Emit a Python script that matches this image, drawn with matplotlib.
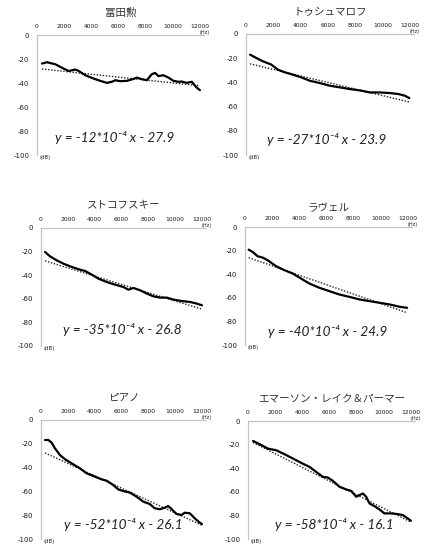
import matplotlib
matplotlib.use("Agg")
import matplotlib.pyplot as plt
import matplotlib.transforms as mtransforms

plt.rcParams['font.family'] = ['Noto Sans CJK JP', 'DejaVu Sans']

titles = ["冨田勲", "トゥシュマロフ", "ストコフスキー", "ラヴェル", "ピアノ",
          "エマーソン・レイク＆パーマー"]

# spectra (Hz, dB)
tomita_hz = [370, 735, 1350, 1960, 2330, 2820, 3060, 3550, 4170, 4660, 5150, 5510, 5760,
             6130, 6620, 7110, 7350, 7720, 8090, 8450, 8700, 8950, 9310, 9680, 10050,
             10420, 10660, 11030, 11400, 11760, 12000]
tomita_db = [-23.8, -22.7, -24.4, -28.0, -30.0, -28.8, -29.9, -33.5, -36.3, -38.2, -39.9,
             -39.0, -37.7, -38.5, -38.2, -36.6, -35.5, -36.8, -37.7, -32.7, -31.6, -34.3,
             -33.5, -35.5, -38.2, -39.0, -38.8, -39.9, -39.0, -43.8, -46.0]

tushmalov_hz = [294, 735, 1225, 1840, 2330, 2820, 3430, 4040, 4660, 5390, 6130, 6860,
                7600, 8330, 9070, 9800, 10540, 11150, 11640, 11960]
tushmalov_db = [-17.0, -19.7, -22.5, -25.2, -29.4, -31.6, -33.6, -35.8, -38.6, -40.5,
                -42.7, -44.1, -45.5, -46.6, -48.3, -48.3, -48.8, -49.6, -51.0, -53.0]

stokowski_hz = [300, 670, 1170, 1670, 2290, 2910, 3280, 3780, 4280, 4900, 5520, 6140,
                6520, 6890, 7390, 7890, 8380, 8880, 9380, 9880, 10500, 11120, 11620, 12000]
stokowski_db = [-20.3, -24.0, -27.4, -30.2, -33.0, -35.3, -36.4, -39.5, -42.9, -45.8,
                -48.0, -50.0, -52.3, -50.8, -52.8, -55.6, -57.9, -59.0, -59.0, -60.7,
                -61.9, -62.7, -64.1, -65.5]

ravel_hz = [270, 565, 930, 1300, 1670, 2290, 2900, 3510, 4130, 4740, 5480, 6220, 6950,
            7690, 8430, 9160, 9900, 10640, 11380, 11940]
ravel_db = [-19.2, -21.1, -24.8, -25.9, -28.2, -33.2, -36.6, -39.4, -43.7, -47.9, -51.5,
            -54.4, -57.2, -59.2, -61.4, -62.8, -64.2, -65.6, -67.6, -68.5]

piano_hz = [300, 550, 790, 1040, 1410, 1790, 2280, 2900, 3400, 4020, 4520, 4890, 5380,
            5760, 6130, 6630, 7120, 7620, 8110, 8480, 8860, 9230, 9480, 9730, 10100,
            10470, 10720, 11090, 11460, 11840, 12000]
piano_db = [-16.8, -16.8, -19.0, -23.8, -29.4, -33.0, -36.4, -40.6, -44.8, -47.6, -49.9,
            -51.0, -54.6, -58.3, -59.7, -61.0, -64.4, -68.6, -70.6, -74.2, -75.0, -73.7,
            -72.3, -74.8, -79.0, -79.8, -77.9, -78.4, -82.6, -86.3, -87.4]

elp_hz = [370, 860, 1470, 2080, 2700, 3310, 3920, 4530, 5020, 5510, 5880, 6250, 6740,
          7230, 7600, 7970, 8210, 8460, 8700, 8950, 9310, 9680, 10050, 10540, 11030,
          11400, 11760, 12000]
elp_db = [-16.9, -19.7, -23.4, -24.8, -28.2, -31.8, -35.5, -38.9, -43.1, -47.3, -47.9,
          -50.7, -55.8, -58.0, -59.2, -64.2, -62.8, -61.4, -64.2, -69.9, -72.1, -74.9,
          -78.3, -78.3, -78.9, -79.7, -82.5, -84.5]

# linear trend lines as printed on the chart: slope in 10^-4 dB/Hz, intercept in dB
slopes = [-12, -27, -35, -40, -52, -58]
intercepts = [-27.9, -23.9, -26.8, -24.9, -26.1, -16.1]

x_ticks = [0, 2000, 4000, 6000, 8000, 10000, 12000]
y_ticks = [0, -20, -40, -60, -80, -100]

series = [(tomita_hz, tomita_db), (tushmalov_hz, tushmalov_db),
          (stokowski_hz, stokowski_db), (ravel_hz, ravel_db),
          (piano_hz, piano_db), (elp_hz, elp_db)]

# axes boxes in pixels: left, top, width, bottom
boxes = [(37, 35, 167, 155), (246, 34, 168, 155),
         (41, 228, 165, 346), (245, 227, 167, 345),
         (41, 420, 165, 539), (248, 421, 167, 539)]
eq_pos = [(5740, -85.8), (5930, -87.6), (6050, -85.6),
          (6110, -88.7), (6110, -88.2), (6330, -88.1)]
title_gap = [22, 22, 23, 19, 22, 22]

W, H = 427, 547
fig = plt.figure(figsize=(W / 100, H / 100), dpi=100)
fig.patch.set_facecolor("white")

spine_col = "#c4c4c4"

for i, (hz, db) in enumerate(series):
    left, top, width, bottom = boxes[i]
    ax = fig.add_axes([left / W, 1 - bottom / H, width / W, (bottom - top) / H])
    ax.set_xlim(0, 12300)
    ax.set_ylim(-100, 0)

    ax.plot(hz, db, color="black", lw=1.6, solid_capstyle="round", zorder=3)
    tx = [hz[0], hz[-1]]
    ty = [slopes[i] * 1e-4 * x + intercepts[i] for x in tx]
    ax.plot(tx, ty, color="#222222", lw=1.0, ls=(0, (1, 1.2)), zorder=2)

    for s in ["bottom", "right"]:
        ax.spines[s].set_visible(False)
    for s in ["left", "top"]:
        ax.spines[s].set_color(spine_col)
        ax.spines[s].set_linewidth(0.9)

    ax.xaxis.tick_top()
    ax.set_xticks(x_ticks)
    ax.set_xticklabels([str(t) for t in x_ticks], fontsize=4.3, family="DejaVu Sans")
    ax.set_yticks(y_ticks)
    ax.set_yticklabels([str(t) for t in y_ticks], fontsize=5, family="DejaVu Sans")
    ax.tick_params(axis="x", length=0, pad=4.2, colors="#1a1a1a")
    ax.tick_params(axis="y", length=0, pad=5.5, colors="#1a1a1a")

    ax.annotate("(Hz)", xy=(0.975, 1.0), xycoords="axes fraction", xytext=(0, 1.5),
                textcoords="offset points", ha="left", va="center",
                fontsize=3.6, family="DejaVu Sans", color="#222222")
    ax.annotate("(dB)", xy=(0.0, 0.0), xycoords="axes fraction", xytext=(2, -1.5),
                textcoords="offset points", ha="left", va="center",
                fontsize=3.8, family="DejaVu Sans", color="#222222")

    off = mtransforms.offset_copy(ax.transAxes, fig=fig, x=0, y=title_gap[i], units="dots")
    ax.text(0.5, 1.0, titles[i], transform=off, ha="center", va="center",
            fontsize=7.6, color="#333333")

    eq = f"y = {slopes[i]}*10⁻⁴ x - {abs(intercepts[i])}"
    ax.text(eq_pos[i][0], eq_pos[i][1], eq, ha="center", va="center",
            fontsize=9.8, style="italic", family=["Lato", "DejaVu Sans"], color="#222222")

fig.savefig("out.png", dpi=100, facecolor="white")
